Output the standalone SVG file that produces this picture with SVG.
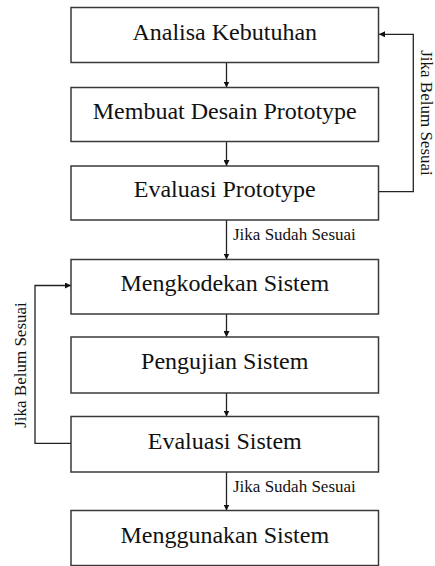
<svg xmlns="http://www.w3.org/2000/svg" width="435" height="566" viewBox="0 0 435 566" font-family="Liberation Serif, Times New Roman, Tinos, DejaVu Serif, serif">
  <style>
    .box { fill: #ffffff; stroke: #3a3a3a; stroke-width: 1.5; }
    .t { font-size: 24px; fill: #111; text-anchor: middle; }
    .lbl { font-size: 17px; fill: #111; }
    .con { fill: none; stroke: #222; stroke-width: 1.3; marker-end: url(#ah); }
  </style>
  <defs>
    <marker id="ah" viewBox="0 0 10 10" refX="10" refY="5" markerWidth="6" markerHeight="6" markerUnits="userSpaceOnUse" orient="auto">
      <path d="M0,0 L10,5 L0,10 Z" fill="#111"/>
    </marker>
  </defs>
  <rect width="435" height="566" fill="#ffffff"/>

  <g id="connectors">
    <path class="con" d="M226.5,62.5 V87.5"/>
    <path class="con" d="M226.5,141.5 V166"/>
    <path class="con" d="M226.5,220 V259.5"/>
    <path class="con" d="M226.5,314 V337"/>
    <path class="con" d="M226.5,393 V416.5"/>
    <path class="con" d="M226.5,472 V510.5"/>
    <path class="con" d="M378.5,191.7 H413.3 V34.3 H379"/>
    <path class="con" d="M71,443.3 H35 V285.5 H71"/>
    <text class="lbl" font-family="Liberation Serif" x="233" y="240">Jika Sudah Sesuai</text>
    <text class="lbl" font-family="Liberation Serif" x="233" y="491.5">Jika Sudah Sesuai</text>
    <text class="lbl" font-family="Liberation Serif" transform="translate(421,113) rotate(90)" text-anchor="middle">Jika Belum Sesuai</text>
    <text class="lbl" font-family="Liberation Serif" transform="translate(26,365) rotate(-90)" text-anchor="middle">Jika Belum Sesuai</text>
  </g>

  <g id="n1"><rect class="box" x="71" y="7.5" width="307.5" height="55"/><text class="t" font-family="Liberation Serif" x="224.75" y="39.5">Analisa Kebutuhan</text></g>
  <g id="n2"><rect class="box" x="71" y="87.5" width="307.5" height="54"/><text class="t" font-family="Liberation Serif" x="224.75" y="118.5">Membuat Desain Prototype</text></g>
  <g id="n3"><rect class="box" x="71" y="166" width="307.5" height="54"/><text class="t" font-family="Liberation Serif" x="224.75" y="197">Evaluasi Prototype</text></g>
  <g id="n4"><rect class="box" x="71" y="259.5" width="307.5" height="54.5"/><text class="t" font-family="Liberation Serif" x="224.75" y="291">Mengkodekan Sistem</text></g>
  <g id="n5"><rect class="box" x="71" y="337" width="307.5" height="56"/><text class="t" font-family="Liberation Serif" x="224.75" y="369">Pengujian Sistem</text></g>
  <g id="n6"><rect class="box" x="71" y="416.5" width="307.5" height="55.5"/><text class="t" font-family="Liberation Serif" x="224.75" y="449">Evaluasi Sistem</text></g>
  <g id="n7"><rect class="box" x="71" y="510.5" width="307.5" height="55"/><text class="t" font-family="Liberation Serif" x="224.75" y="542.5">Menggunakan Sistem</text></g>
</svg>
